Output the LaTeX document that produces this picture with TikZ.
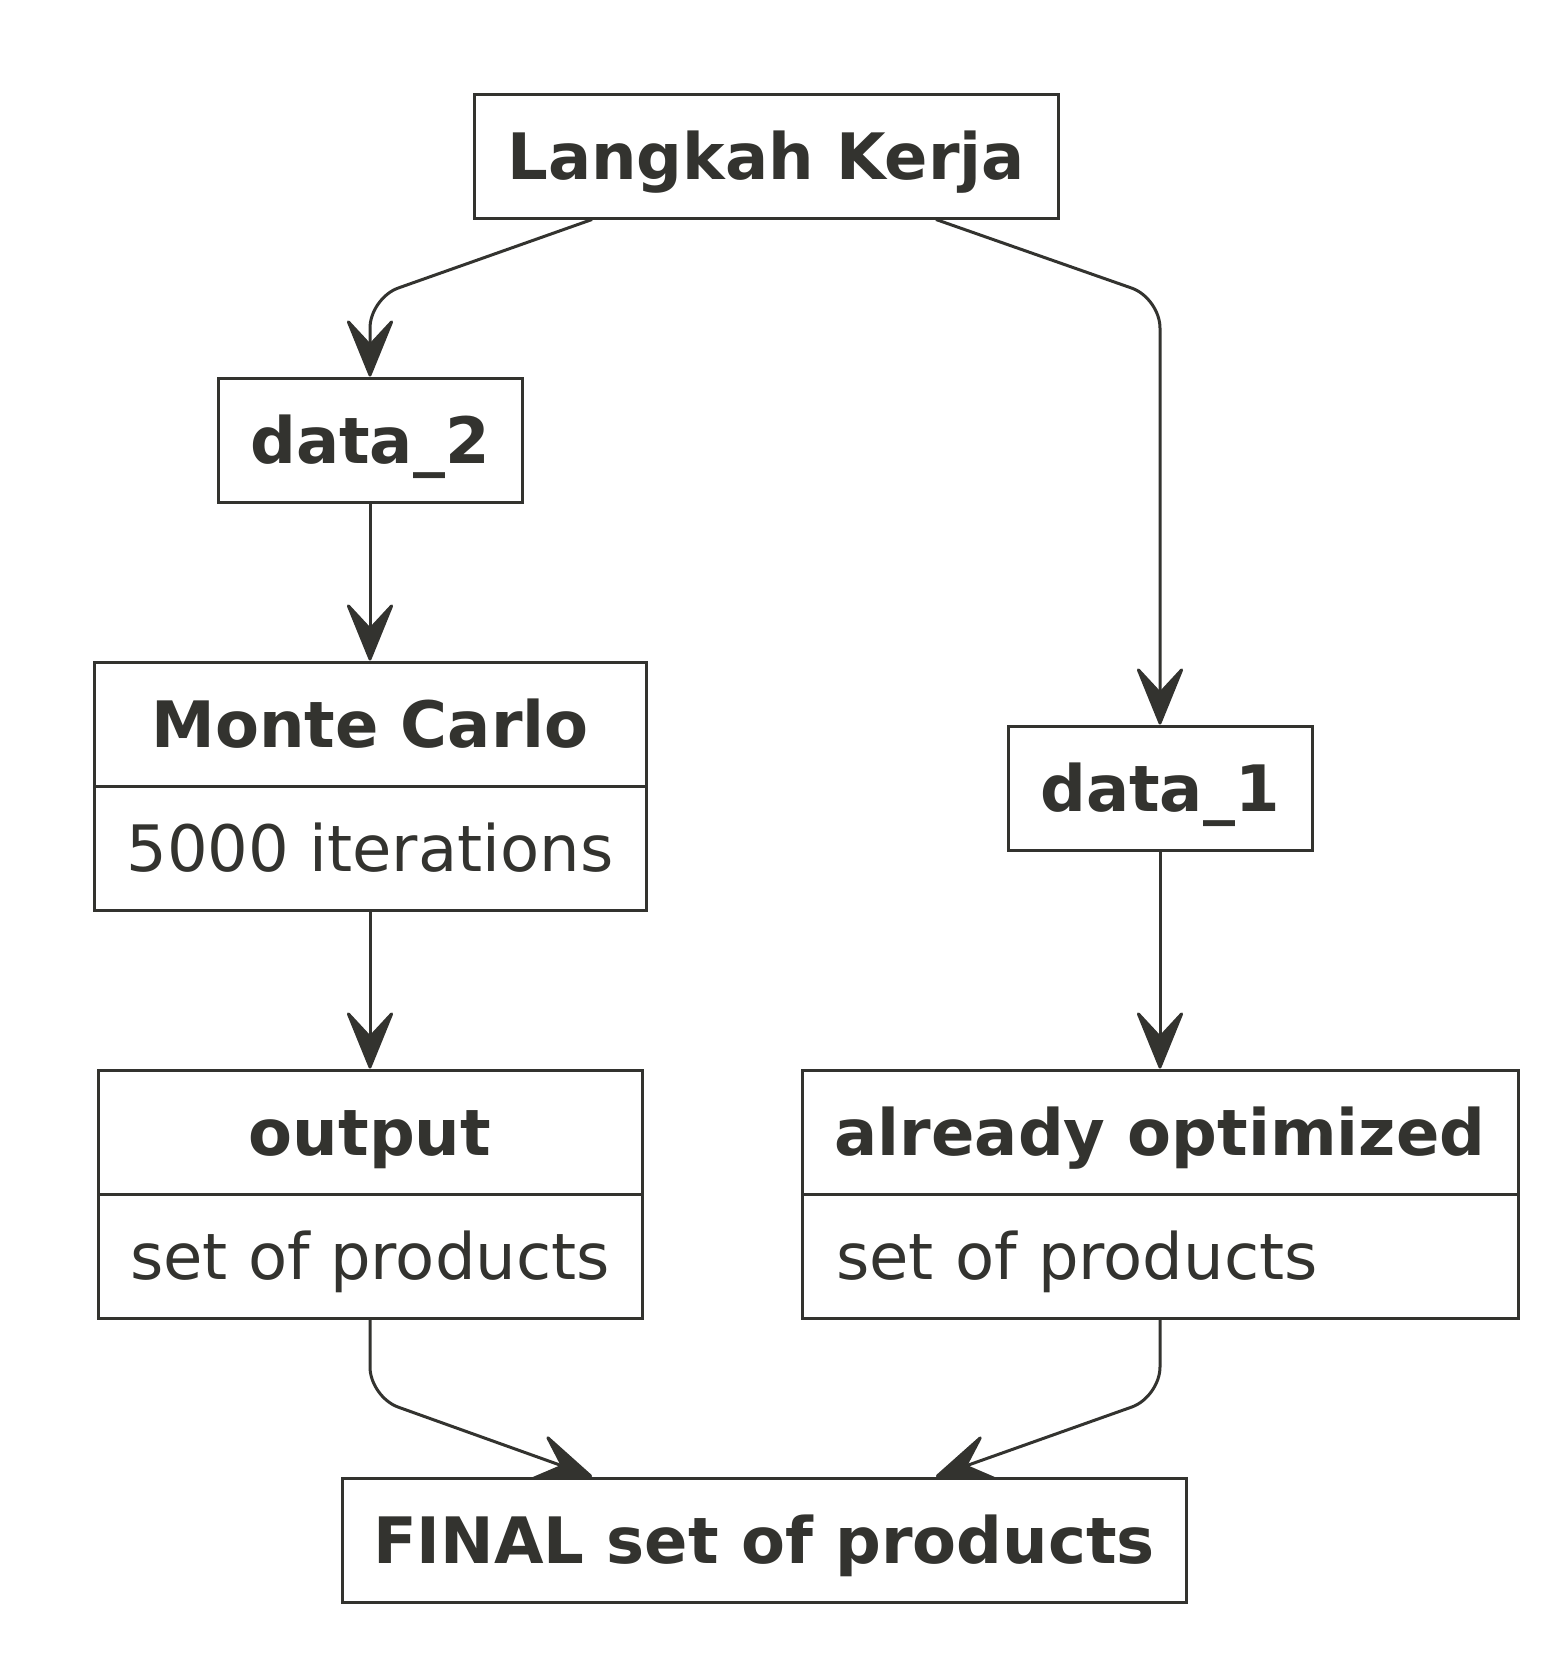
\documentclass[tikz,border=0pt]{standalone}
\usepackage{fontspec}
\setmainfont{DejaVu Sans}
\usetikzlibrary{arrows.meta,positioning,backgrounds}
\definecolor{ink}{RGB}{51,51,47}
\tikzset{basic/.style={draw=ink,fill=white,line width=1.5pt,text=ink,
                       inner sep=0pt,minimum height=62pt,
                       text height=23.3pt,text depth=0pt}}
\tikzset{title/.style={basic,font=\bfseries\fontsize{32}{38}\selectfont}}
\tikzset{body/.style={basic,font=\fontsize{32}{38}\selectfont}}
\tikzset{flow/.style={draw=ink,line width=1.5pt,rounded corners=15pt,
                      -{Stealth[length=32pt,width=26pt,inset=14pt,round]}}}

\begin{document}
\begin{tikzpicture}[x=0.5pt,y=-0.5pt]
    \useasboundingbox (0,0) rectangle (1568,1656);
    \node[title,minimum width=292pt] (lk) at (766,156) {Langkah Kerja};
    % left branch
    \node[title,minimum width=152pt] (d2) at (370,440) {data\_2};
    \node[title,minimum width=276pt] (mc) at (370,724) {Monte Carlo};
    \node[body,minimum width=276pt,below=-1.5pt of mc] (mcb) {5000 iterations};
    \node[title,minimum width=272pt] (out) at (370,1132) {output};
    \node[body,minimum width=272pt,below=-1.5pt of out] (outb) {set of products};
    % right branch
    \node[title,minimum width=152pt] (d1) at (1160,788) {data\_1};
    \node[title,minimum width=358pt] (opt) at (1160,1132) {already optimized};
    \node[body,text width=324pt,inner xsep=17pt,align=left,
          below=-1.5pt of opt] (optb) {set of products};
    \node[title,minimum width=422pt] (fin) at (764,1540) {FINAL set of products};

    \coordinate (c1) at (370,298);
    \coordinate (c2) at (1160,298);
    \coordinate (c3) at (370,1397);
    \coordinate (c4) at (1160,1397);
    \begin{scope}[on background layer]
        \draw[flow] ([xshift=-87pt]lk.south) -- (c1) -- (d2);
        \draw[flow] ([xshift=85pt]lk.south) -- (c2) -- (d1);
        \draw[flow] (d2) -- (mc);
        \draw[flow] (mcb) -- (out);
        \draw[flow] (d1) -- (opt);
        \draw[flow] (outb) -- (c3) -- ([xshift=-86pt]fin.north);
        \draw[flow] (optb) -- (c4) -- ([xshift=86pt]fin.north);
    \end{scope}
\end{tikzpicture}
\end{document}
